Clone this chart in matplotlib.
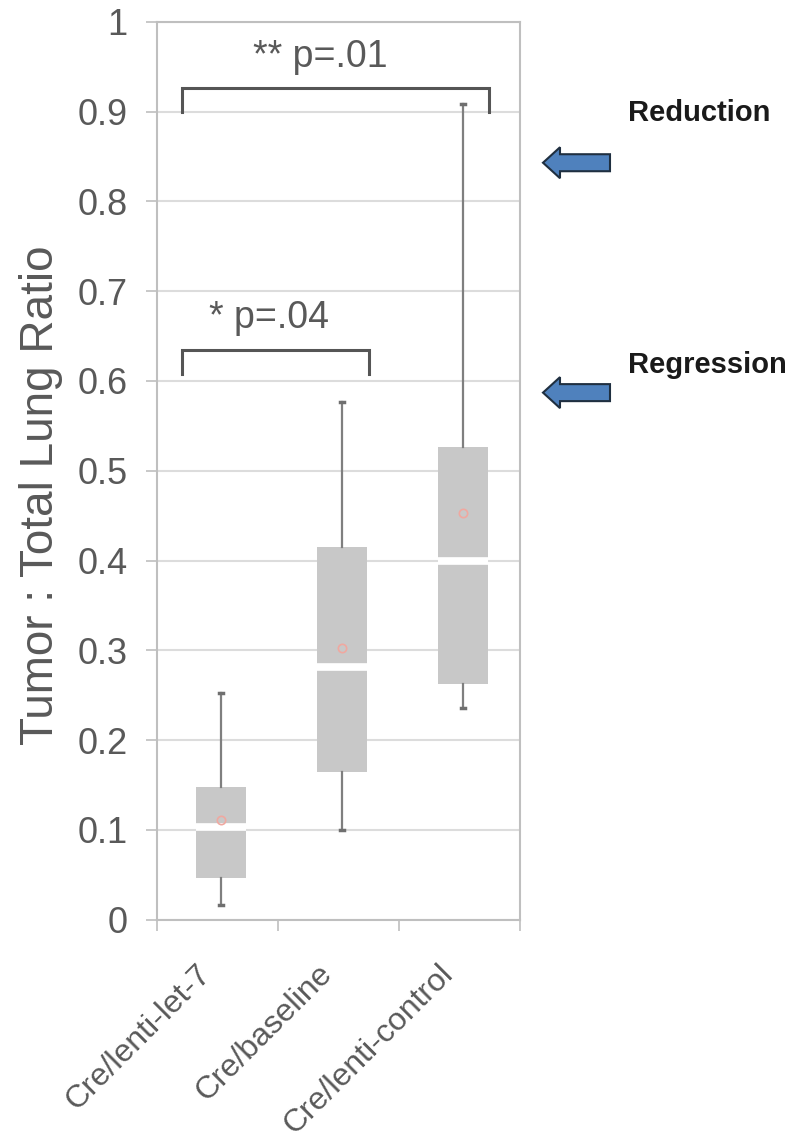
import matplotlib
matplotlib.use("Agg")
import matplotlib.pyplot as plt
from matplotlib.patches import FancyArrow
import numpy as np

plt.rcParams['font.family'] = ['Liberation Sans', 'DejaVu Sans']

# 数据
groups = ["Cre/lenti-let-7", "Cre/baseline", "Cre/lenti-control"]
q1 = [0.047, 0.164, 0.262]
q3 = [0.148, 0.415, 0.527]
medians = [0.103, 0.282, 0.400]
means = [0.111, 0.303, 0.453]
whis_lo = [0.017, 0.100, 0.236]
whis_hi = [0.253, 0.577, 0.908]

# 显著性标注: (左, 右, 高度, 文字x, 文字)
sig_bars = [(-0.29, 2.25, 0.926, 0.85, "** p=.01"), (-0.29, 1.25, 0.635, 0.43, "* p=.04")]
side_labels = ["Reduction", "Regression"]
arrow_vals = [0.843, 0.587]

grey_txt = '#595959'
fig = plt.figure(figsize=(7.85, 11.44), dpi=100)
ax = fig.add_axes([0.2, 0.196, 0.462, 0.785])

stats = []
for i in range(len(groups)):
    stats.append(dict(med=medians[i], q1=q1[i], q3=q3[i], whislo=whis_lo[i],
                      whishi=whis_hi[i], mean=means[i], fliers=[]))

pos = np.arange(len(groups)) + 0.03
ax.bxp(stats, positions=pos, widths=0.41, patch_artist=True, showmeans=True,
       capwidths=0.03,
       boxprops=dict(facecolor='#c8c8c8', edgecolor='none'),
       medianprops=dict(color='white', linewidth=5.5),
       whiskerprops=dict(color='#7f7f7f', linewidth=1.6),
       capprops=dict(color='#6f6f6f', linewidth=2.5),
       meanprops=dict(marker='o', markerfacecolor='none', markeredgecolor='#f0a8a0',
                      markersize=6, markeredgewidth=1.2))

ax.set_xlim(-0.5, 2.5)
ax.set_ylim(0, 1)
ax.set_yticks(np.arange(0, 1.01, 0.1))
ax.set_yticklabels(['0', '0.1', '0.2', '0.3', '0.4', '0.5', '0.6', '0.7', '0.8', '0.9', '1'])
ax.yaxis.grid(True, color='#dcdcdc', linewidth=1.5)
ax.set_axisbelow(True)

ax.set_xticks(np.arange(len(groups)))
ax.set_xticklabels(groups, rotation=45, ha='right')
ax.set_xticks(np.arange(-0.5, 2.6, 1), minor=True)
ax.tick_params(axis='x', which='major', length=0, pad=28, labelsize=23, labelcolor=grey_txt)
ax.tick_params(axis='x', which='minor', length=8, width=1.2, color='#bfbfbf')
ax.tick_params(axis='y', length=8, width=1.2, color='#bfbfbf', pad=13,
               labelsize=26, labelcolor=grey_txt)
for s in ax.spines.values():
    s.set_color('#bfbfbf')
    s.set_linewidth(1.5)

ax.set_ylabel("Tumor : Total Lung Ratio", fontsize=33, color=grey_txt)
ax.yaxis.set_label_coords(-0.26, 0.473)

for x0, x1, h, tx, txt in sig_bars:
    ax.plot([x0, x0, x1, x1], [h - 0.027, h, h, h - 0.027], color='#555555',
            linewidth=2.2, clip_on=False, solid_joinstyle='miter')
    ax.text(tx, h + 0.015, txt, ha='center', va='bottom',
            fontsize=27, color=grey_txt)

# 右侧箭头和文字
for lab, yv, ty in zip(side_labels, arrow_vals, [0.901, 0.681]):
    ypx = ax.transData.transform((0, yv))[1] / fig.dpi
    arr = FancyArrow(6.10, ypx, -0.67, 0, width=0.17, head_width=0.31,
                     head_length=0.17, length_includes_head=True,
                     transform=fig.dpi_scale_trans, facecolor='#4f81bd',
                     edgecolor='#1f2f40', linewidth=1.5)
    fig.patches.append(arr)
    fig.text(0.8, ty, lab, fontsize=21, fontweight='bold', color='#1a1a1a',
             ha='left', va='center')

fig.savefig('out.png', dpi=100)
